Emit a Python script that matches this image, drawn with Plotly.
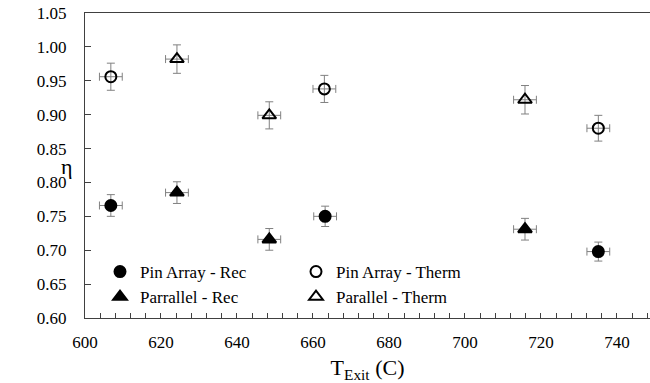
import plotly.graph_objects as go

# Data
pin_rec_x = [606.8, 663.2, 735.1]
pin_rec_y = [0.766, 0.750, 0.698]
pin_rec_ey = [0.016, 0.015, 0.014]

par_rec_x = [624.2, 648.5, 715.8]
par_rec_y = [0.785, 0.716, 0.731]
par_rec_ey = [0.016, 0.016, 0.016]

pin_th_x = [606.8, 663.0, 735.1]
pin_th_y = [0.956, 0.938, 0.880]
pin_th_ey = [0.020, 0.020, 0.019]

par_th_x = [624.2, 648.5, 715.8]
par_th_y = [0.982, 0.899, 0.922]
par_th_ey = [0.021, 0.020, 0.021]

x_err = [3, 3, 3]

FONT = "Liberation Serif"
W, H = 650, 383
L, R, T, B = 85, 0, 13, 65
PW, PH = W - L - R, H - T - B


def px2paper(px, py):
    return (px - L) / PW, (H - B - py) / PH


fig = go.Figure()

err_style = dict(color="#808080", thickness=1, width=4)


def add(name, xs, ys, eys, symbol, size):
    fig.add_trace(go.Scatter(
        x=xs, y=ys, mode="markers", name=name,
        marker=dict(symbol=symbol, size=size, color="black",
                    line=dict(color="black", width=2)),
        error_y=dict(type="data", array=eys, visible=True, **err_style),
        error_x=dict(type="data", array=x_err, visible=True, **err_style),
    ))


add("Pin Array - Rec", pin_rec_x, pin_rec_y, pin_rec_ey, "circle", 11)
add("Pin Array - Therm", pin_th_x, pin_th_y, pin_th_ey, "circle-open", 11)
add("Parrallel - Rec", par_rec_x, par_rec_y, par_rec_ey, "triangle-up", 12)
add("Parallel - Therm", par_th_x, par_th_y, par_th_ey, "triangle-up-open", 12)

axis_col = "#404040"
lx, ly = px2paper(100, 254)

fig.update_layout(
    width=W, height=H,
    margin=dict(l=L, r=R, t=T, b=B),
    paper_bgcolor="white", plot_bgcolor="white",
    showlegend=True,
    legend=dict(x=lx, y=ly, xanchor="left", yanchor="top", orientation="h",
                entrywidth=151, bgcolor="rgba(0,0,0,0)", borderwidth=0,
                font=dict(family=FONT, size=17, color="black")),
    xaxis=dict(
        range=[600, 748.7], dtick=20, tick0=600,
        showgrid=False, zeroline=False,
        showline=True, linecolor=axis_col, linewidth=1, mirror=True,
        ticks="inside", ticklen=5, tickcolor=axis_col,
        minor=dict(dtick=4, ticks="inside", ticklen=5, tickcolor=axis_col, showgrid=False),
        tickfont=dict(family=FONT, size=17, color="black"),
        ticklabelstandoff=9,
        title=dict(text="T<sub>Exit</sub> (C)", font=dict(family=FONT, size=22, color="black"), standoff=12),
    ),
    yaxis=dict(
        range=[0.6, 1.05], dtick=0.05, tick0=0.6, tickformat=".2f",
        showgrid=False, zeroline=False,
        showline=True, linecolor=axis_col, linewidth=1,
        ticks="inside", ticklen=6, tickcolor=axis_col,
        tickfont=dict(family=FONT, size=17, color="black"),
        ticklabelstandoff=14,
    ),
)

fig.add_annotation(text="η", xref="paper", yref="paper",
                   x=px2paper(67, 0)[0], y=px2paper(0, 166)[1],
                   xanchor="center", yanchor="middle", showarrow=False,
                   font=dict(family=FONT, size=22, color="black"))

fig.write_html("out.html")
